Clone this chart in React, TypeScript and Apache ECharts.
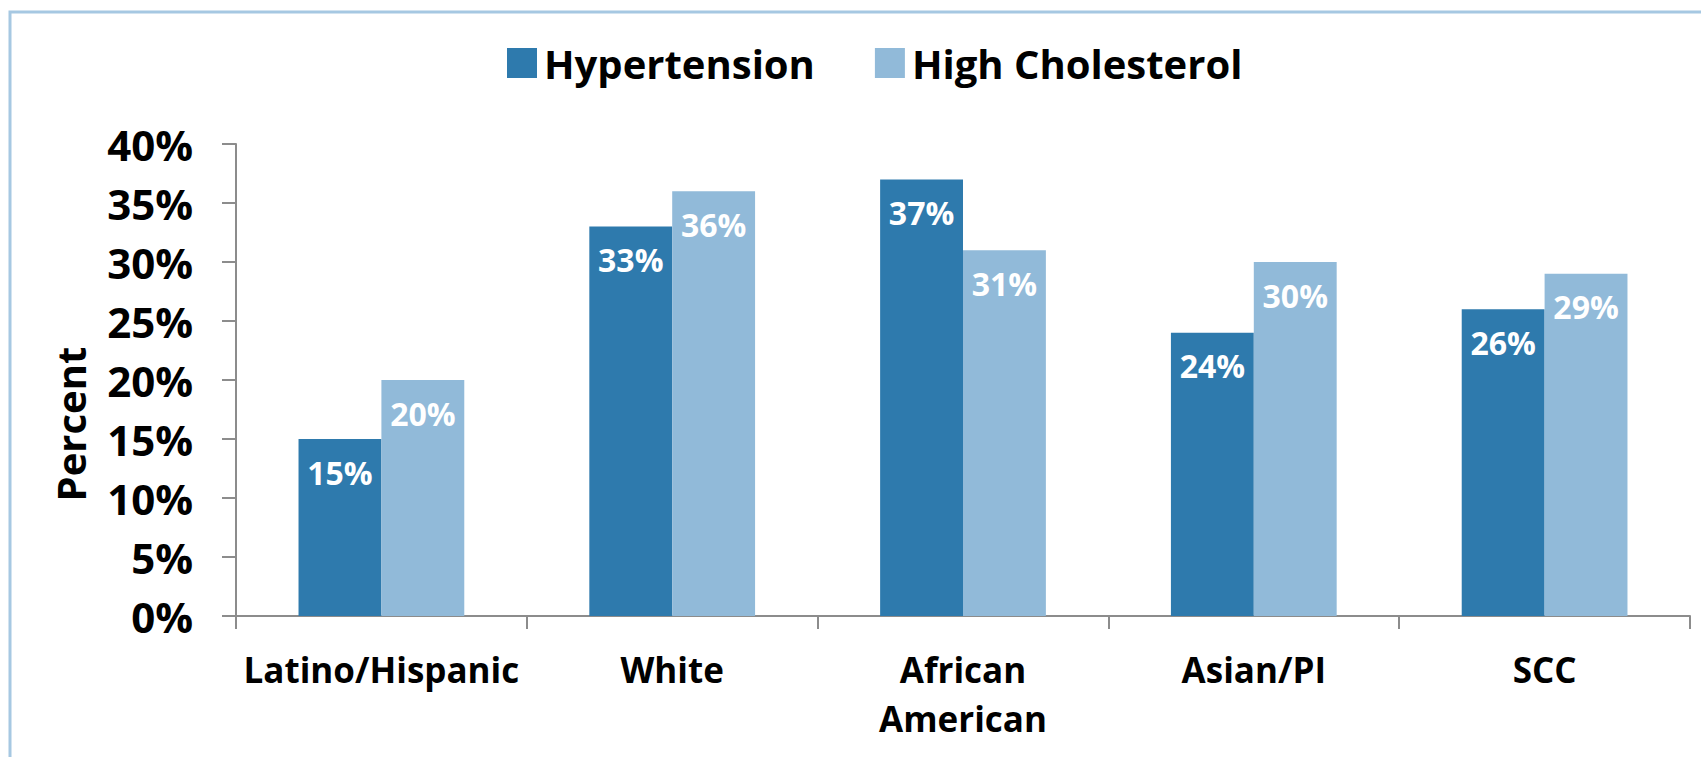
import React, { useEffect, useRef } from "react";
import * as echarts from "echarts";

const categories = ["Latino/Hispanic", "White", "African\nAmerican", "Asian/PI", "SCC"];
const hypertension = [15, 33, 37, 24, 26];
const highCholesterol = [20, 36, 31, 30, 29];
const seriesNames = ["Hypertension", "High Cholesterol"];

const FONT = "'Open Sans', Lato, sans-serif";

export default function App() {
  const ref = useRef<HTMLDivElement>(null);
  useEffect(() => {
    document.body.style.margin = "0";
    const chart = echarts.init(ref.current!, null, { renderer: "svg" });
    const labelCfg = {
      show: true,
      position: "insideTop",
      distance: 17,
      color: "#ffffff",
      fontWeight: "bold",
      fontSize: 32,
      fontFamily: FONT,
      formatter: "{c}%",
    };
    chart.setOption({
      animation: false,
      backgroundColor: "#ffffff",
      textStyle: { fontFamily: FONT },
      graphic: [
        {
          type: "rect",
          shape: { x: 10, y: 12, width: 1720, height: 780 },
          style: { fill: "none", stroke: "#A6C8E2", lineWidth: 3 },
          silent: true,
        },
      ],
      legend: {
        top: 38,
        left: 502,
        itemWidth: 30,
        itemHeight: 30,
        itemGap: 60,
        icon: "rect",
        textStyle: { fontSize: 40, fontWeight: "bold", color: "#000", fontFamily: FONT, padding: [0, 0, 0, 2] },
        data: seriesNames,
      },
      grid: { left: 236, right: 11, top: 144, bottom: 141 },
      xAxis: {
        type: "category",
        data: categories,
        axisLine: { lineStyle: { color: "#8c8c8c", width: 2 } },
        axisTick: { show: true, length: 13, lineStyle: { color: "#8c8c8c", width: 2 } },
        axisLabel: {
          color: "#000",
          fontWeight: "bold",
          fontSize: 35,
          fontFamily: FONT,
          margin: 29,
          lineHeight: 49,
          interval: 0,
        },
      },
      yAxis: {
        type: "value",
        min: 0,
        max: 40,
        interval: 5,
        name: "Percent",
        nameLocation: "middle",
        nameRotate: 90,
        nameGap: 146,
        nameTextStyle: {
          color: "#000",
          fontWeight: "bold",
          fontSize: 40,
          fontFamily: FONT,
          padding: [0, 88, 0, 0],
        },
        axisLine: { show: true, lineStyle: { color: "#8c8c8c", width: 2 } },
        axisTick: { show: true, length: 14, lineStyle: { color: "#8c8c8c", width: 2 } },
        splitLine: { show: false },
        axisLabel: {
          formatter: "{value}%",
          color: "#000",
          fontWeight: "bold",
          fontSize: 42,
          fontFamily: FONT,
          margin: 43,
        },
      },
      series: [
        {
          name: seriesNames[0],
          type: "bar",
          data: hypertension,
          itemStyle: { color: "#2E7AAD" },
          barGap: "0%",
          barCategoryGap: "43%",
          label: labelCfg,
        },
        {
          name: seriesNames[1],
          type: "bar",
          data: highCholesterol,
          itemStyle: { color: "#91BAD9" },
          barGap: "0%",
          barCategoryGap: "43%",
          label: labelCfg,
        },
      ],
    });
    return () => chart.dispose();
  }, []);
  return <div ref={ref} style={{ width: 1701, height: 757 }} />;
}
